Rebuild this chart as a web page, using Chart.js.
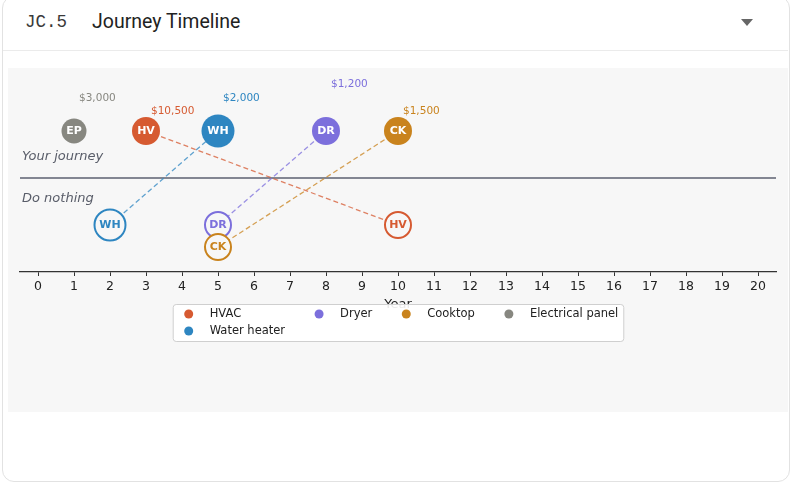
<!DOCTYPE html>
<html>
<head>
<meta charset="utf-8">
<title>Journey Timeline</title>
<script src="https://cdn.jsdelivr.net/npm/chart.js@4.4.1/dist/chart.umd.min.js"></script>
<style>
    body { margin: 0; background: #fff; width: 791px; height: 482px; overflow: hidden; position: relative; font-family: Roboto, sans-serif; }
    .card { position: absolute; left: 2px; top: -4px; width: 786px; height: 484px; border: 1px solid #e2e2e2; border-radius: 12px; }
    .header { position: absolute; left: 3px; top: 0; width: 785px; height: 50px; border-bottom: 1px solid #ebebeb; }
    .code { position: absolute; left: 22px; top: 12px; font-family: "Liberation Mono", monospace; font-size: 17.5px; color: #3a3a3a; }
    .title { position: absolute; left: 89px; top: 10px; font-size: 19.5px; color: #222; }
    .caret { position: absolute; left: 738px; top: 19px; width: 0; height: 0; border-left: 6.5px solid transparent; border-right: 6.5px solid transparent; border-top: 7px solid #666; }
    .plot { position: absolute; left: 8px; top: 68px; width: 780px; height: 344px; background: #f7f7f7; }
</style>
</head>
<body>
<div class="card"></div>
<div class="header">
    <span class="code">JC.5</span>
    <span class="title">Journey Timeline</span>
    <span class="caret"></span>
</div>
<div class="plot">
    <canvas id="myChart" width="780" height="344"></canvas>
</div>

<script>
const items = ['HVAC', 'Water heater', 'Dryer', 'Cooktop', 'Electrical panel'];
const codes = ['HV', 'WH', 'DR', 'CK', 'EP'];
const costs = [10500, 2000, 1200, 1500, 3000];
const journeyYears = [3, 5, 8, 10, 1];
const nothingYears = [10, 2, 5, 5, null];
const yearTicks = [0, 1, 2, 3, 4, 5, 6, 7, 8, 9, 10, 11, 12, 13, 14, 15, 16, 17, 18, 19, 20];

// styles
const colors = ['#d65a31', '#2e86c1', '#7c6fdc', '#c9831d', '#878780'];
const radii = [14, 16.5, 14, 14, 12.5];
const labelLift = [0.43, 0.7, 1.0, 0.43, 0.7]; // price label height above the row
const JOURNEY_Y = 1;
const NOTHING_Y = -1;
const STACK_STEP = 0.47; // shift for two "do nothing" items in the same year
const BG = '#f7f7f7';

function withAlpha(hex, a) {
    const n = parseInt(hex.slice(1), 16);
    return `rgba(${n >> 16}, ${(n >> 8) & 255}, ${n & 255}, ${a})`;
}

// y of each "do nothing" point, stacked when a year is already taken
const usedYears = {};
const nothingY = nothingYears.map(year => {
    if (year === null) return null;
    const count = usedYears[year] || 0;
    usedYears[year] = count + 1;
    return NOTHING_Y - count * STACK_STEP;
});

const datasets = [];
// points: reversed so that later items are drawn on top
for (let i = items.length - 1; i >= 0; i--) {
    datasets.push({
        type: 'scatter',
        label: items[i],
        kind: 'journey',
        item: i,
        data: [{ x: journeyYears[i], y: JOURNEY_Y }],
        pointRadius: radii[i],
        pointHoverRadius: radii[i],
        backgroundColor: colors[i],
        borderWidth: 0,
        order: 1
    });
    if (nothingYears[i] !== null) {
        datasets.push({
            type: 'scatter',
            label: items[i],
            kind: 'nothing',
            item: i,
            data: [{ x: nothingYears[i], y: nothingY[i] }],
            pointRadius: radii[i] - 1,
            pointHoverRadius: radii[i] - 1,
            backgroundColor: BG,
            borderColor: colors[i],
            borderWidth: 2,
            order: 1
        });
    }
}
// dashed connectors
for (let i = 0; i < items.length; i++) {
    if (nothingYears[i] === null) continue;
    datasets.push({
        type: 'line',
        label: items[i],
        kind: 'link',
        data: [{ x: journeyYears[i], y: JOURNEY_Y }, { x: nothingYears[i], y: nothingY[i] }],
        borderColor: withAlpha(colors[i], 0.75),
        borderWidth: 1.3,
        borderDash: [5, 3],
        pointRadius: 0,
        fill: false,
        order: 2
    });
}

const annotations = {
    id: 'annotations',
    beforeDatasetsDraw(chart) {
        const { ctx, chartArea, scales: { y } } = chart;
        const y0 = y.getPixelForValue(0);
        ctx.save();
        ctx.strokeStyle = '#5c6170';
        ctx.lineWidth = 1.3;
        ctx.beginPath();
        ctx.moveTo(chartArea.left, y0);
        ctx.lineTo(chartArea.right, y0);
        ctx.stroke();

        ctx.fillStyle = '#595d69';
        ctx.font = 'italic 13px "DejaVu Sans"';
        ctx.textAlign = 'left';
        ctx.textBaseline = 'middle';
        ctx.fillText('Your journey', chartArea.left + 2, y.getPixelForValue(0.45));
        ctx.fillText('Do nothing', chartArea.left + 2, y.getPixelForValue(-0.43));
        ctx.restore();
    },
    afterDatasetsDraw(chart) {
        const { ctx, scales: { y } } = chart;
        ctx.save();
        ctx.textBaseline = 'middle';
        chart.data.datasets.forEach((ds, di) => {
            if (ds.kind !== 'journey' && ds.kind !== 'nothing') return;
            const pt = chart.getDatasetMeta(di).data[0];
            const i = ds.item;
            ctx.font = 'bold 11px "DejaVu Sans"';
            ctx.fillStyle = ds.kind === 'journey' ? '#fff' : colors[i];
            ctx.textAlign = 'center';
            ctx.fillText(codes[i], pt.x, pt.y + 0.5);
            if (ds.kind === 'journey') {
                ctx.font = '10.5px "DejaVu Sans"';
                ctx.fillStyle = colors[i];
                ctx.textAlign = 'left';
                ctx.fillText('$' + costs[i].toLocaleString('en-US'), pt.x + 5, y.getPixelForValue(JOURNEY_Y + labelLift[i]));
            }
        });
        ctx.restore();
    },
    afterDraw(chart) {
        // legend, laid out in columns like the original
        const { ctx, chartArea } = chart;
        const ncol = 4, pad = 5, handle = 22, textPad = 10, colGap = 23, rowH = 17;
        ctx.save();
        ctx.font = '11.5px "DejaVu Sans"';
        const base = Math.floor(items.length / ncol), extra = items.length % ncol;
        const cols = [];
        let k = 0;
        for (let c = 0; c < ncol; c++) {
            const n = base + (c < extra ? 1 : 0);
            cols.push(items.slice(k, k + n).map((name, r) => ({ name, idx: k + r })));
            k += n;
        }
        const widths = cols.map(col => Math.max(...col.map(e => ctx.measureText(e.name).width)));
        const boxW = pad * 2 + widths.reduce((s, w) => s + handle + textPad + w, 0) + colGap * (ncol - 1);
        const boxH = Math.max(...cols.map(c => c.length)) * rowH + 3;
        const left = (chartArea.left + chartArea.right) / 2 - boxW / 2;
        const top = chartArea.bottom + 32;

        ctx.fillStyle = 'rgba(255, 255, 255, 0.9)';
        ctx.strokeStyle = '#cfcfcf';
        ctx.lineWidth = 1;
        ctx.beginPath();
        ctx.roundRect(left + 0.5, top + 0.5, boxW, boxH, 3);
        ctx.fill();
        ctx.stroke();

        ctx.textAlign = 'left';
        ctx.textBaseline = 'middle';
        let x = left + pad;
        cols.forEach((col, c) => {
            col.forEach((e, r) => {
                const cy = top + 10 + r * rowH;
                ctx.fillStyle = colors[e.idx];
                ctx.beginPath();
                ctx.arc(x + handle / 2, cy, 4.5, 0, Math.PI * 2);
                ctx.fill();
                ctx.fillStyle = '#222';
                ctx.fillText(e.name, x + handle + textPad, cy);
            });
            x += handle + textPad + widths[c] + colGap;
        });
        ctx.restore();
    }
};

const ctx = document.getElementById('myChart').getContext('2d');
new Chart(ctx, {
    type: 'scatter',
    data: { datasets: datasets },
    options: {
        responsive: false,
        animation: false,
        devicePixelRatio: 1,
        layout: { autoPadding: false, padding: { left: 12, right: 12, top: 6.6, bottom: 100 } },
        plugins: {
            legend: { display: false },
            tooltip: { enabled: false }
        },
        scales: {
            x: {
                type: 'linear',
                min: -0.5,
                max: 20.5,
                afterBuildTicks: scale => { scale.ticks = yearTicks.map(v => ({ value: v })); },
                afterFit: scale => { scale.height = 40; },
                ticks: {
                    color: '#222',
                    padding: 3,
                    font: { family: 'DejaVu Sans', size: 12.5 },
                    callback: v => String(v)
                },
                grid: {
                    display: true,
                    drawOnChartArea: false,
                    drawTicks: true,
                    tickLength: 4,
                    tickColor: '#333'
                },
                border: { display: true, color: '#333', width: 1.3 },
                title: {
                    display: true,
                    text: 'Year',
                    color: '#222',
                    padding: 0,
                    font: { family: 'DejaVu Sans', size: 13 }
                }
            },
            y: {
                type: 'linear',
                display: false,
                min: -2,
                max: 2.2
            }
        }
    },
    plugins: [annotations]
});
</script>
</body>
</html>
